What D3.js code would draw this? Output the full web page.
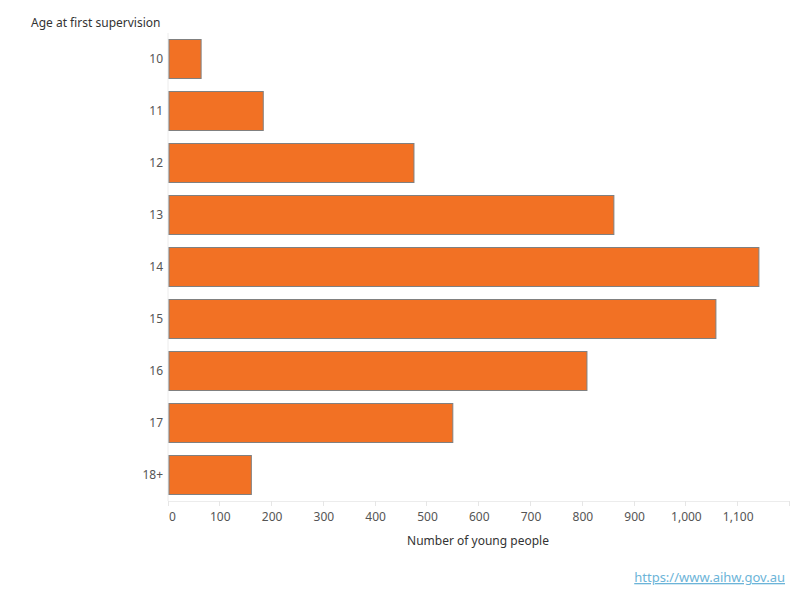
<!DOCTYPE html>
<html>
<head>
<meta charset="utf-8">
<script src="https://cdn.jsdelivr.net/npm/d3@7"></script>
<style>
  body { margin: 0; background: #fff; font-family: "Noto Sans", sans-serif; }
  .tick-label { fill: #555; font-size: 12px; }
  .text-label { fill: #333; font-size: 12px; }
</style>
</head>
<body>
<svg id="svg1" width="800" height="600"></svg>
<script>
var ages = ["10", "11", "12", "13", "14", "15", "16", "17", "18+"];
var counts = [62, 182, 473, 859, 1139, 1056, 807, 548, 159];
var xTicks = [0, 100, 200, 300, 400, 500, 600, 700, 800, 900, 1000, 1100, 1200];

var data = ages.map(function(a, i) { return {age: a, count: counts[i]}; });

var svg = d3.select("#svg1");

var x = d3.scaleLinear().domain([0, 1200]).range([168.5, 790]);
var y = d3.scaleBand().domain(ages).range([33, 501]).paddingInner(0.25).paddingOuter(0.125);

// axis lines
svg.append("line")
  .attr("x1", x(0) - 0.5).attr("x2", x(0) - 0.5)
  .attr("y1", 33).attr("y2", 501)
  .attr("stroke", "#ececec");
svg.append("line")
  .attr("x1", x(0) - 0.5).attr("x2", x(1200))
  .attr("y1", 501.5).attr("y2", 501.5)
  .attr("stroke", "#ececec");

// x ticks
svg.selectAll(".xtick")
  .data(xTicks)
  .enter().append("line")
    .attr("class", "xtick")
    .attr("x1", function(d) { return Math.round(x(d)) - 0.5; })
    .attr("x2", function(d) { return Math.round(x(d)) - 0.5; })
    .attr("y1", 501).attr("y2", 506)
    .attr("stroke", "#e6e6e6");

svg.selectAll(".xlabel")
  .data(xTicks.filter(function(d) { return d < 1200; }))
  .enter().append("text")
    .attr("class", "tick-label")
    .attr("x", function(d) { return d === 0 ? x(d) + 4 : x(d); })
    .attr("y", 521)
    .attr("text-anchor", "middle")
    .text(function(d) { return d3.format(",")(d); });

// y labels
svg.selectAll(".ylabel")
  .data(ages)
  .enter().append("text")
    .attr("class", "tick-label")
    .attr("x", 163)
    .attr("y", function(d) { return y(d) + y.bandwidth() / 2; })
    .attr("dy", "0.35em")
    .attr("text-anchor", "end")
    .text(function(d) { return d; });

// bars
svg.selectAll(".bar")
  .data(data)
  .enter().append("rect")
    .attr("class", "bar")
    .attr("x", x(0) + 0.5)
    .attr("y", function(d) { return Math.round(y(d.age)) - 0.5; })
    .attr("width", function(d) { return x(d.count) - x(0); })
    .attr("height", y.bandwidth())
    .attr("fill", "#f27124")
    .attr("stroke", "#808080")
    .attr("stroke-width", 1);

// titles
svg.append("text")
  .attr("class", "text-label")
  .attr("x", 31)
  .attr("y", 27)
  .text("Age at first supervision");

svg.append("text")
  .attr("class", "text-label")
  .attr("x", 478)
  .attr("y", 545)
  .attr("text-anchor", "middle")
  .text("Number of young people");

svg.append("text")
  .attr("x", 785)
  .attr("y", 582)
  .attr("text-anchor", "end")
  .attr("fill", "#6cb4d8")
  .attr("font-size", "13px")
  .attr("text-decoration", "underline")
  .text("https://www.aihw.gov.au");
</script>
</body>
</html>
